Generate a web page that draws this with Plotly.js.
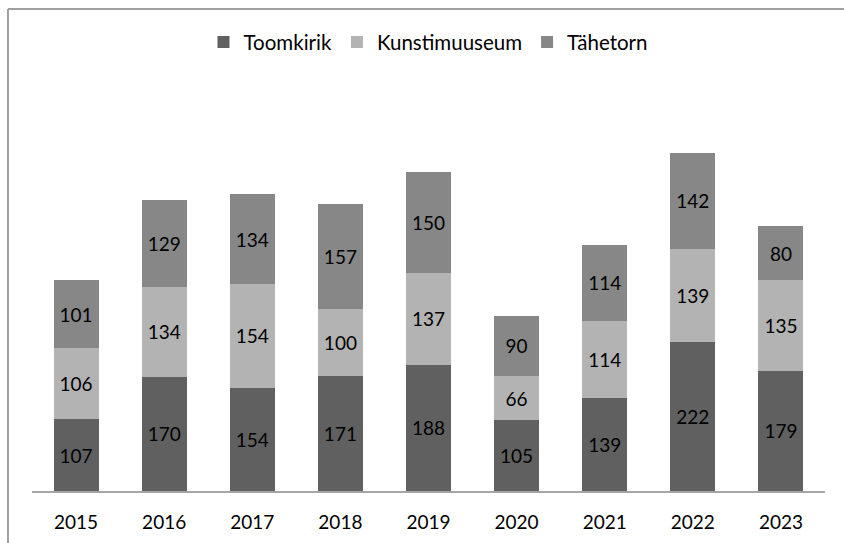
<!DOCTYPE html>
<html>
<head>
<meta charset="utf-8">
<script src="https://cdn.plot.ly/plotly-3.0.1.min.js"></script>
<style>
html,body{margin:0;padding:0;background:#fff;}
#chart{width:844px;height:543px;}
</style>
</head>
<body>
<div id="chart"></div>
<script>
const years = ['2015','2016','2017','2018','2019','2020','2021','2022','2023'];
const toomkirik = [107,170,154,171,188,105,139,222,179];
const kunstimuuseum = [106,134,154,100,137,66,114,139,135];
const tahetorn = [101,129,134,157,150,90,114,142,80];
const seriesNames = ['Toomkirik','Kunstimuuseum','Tähetorn'];
const seriesColors = ['#606060','#b3b3b3','#878787'];
const seriesValues = [toomkirik, kunstimuuseum, tahetorn];

const FONT = 'Lato, "Open Sans", sans-serif';

const traces = seriesValues.map((vals, i) => ({
  type: 'bar',
  name: seriesNames[i],
  x: years,
  y: vals,
  text: vals.map(String),
  textposition: 'inside',
  insidetextanchor: 'middle',
  textangle: 0,
  constraintext: 'none',
  textfont: {family: FONT, size: 19, color: '#000000'},
  marker: {color: seriesColors[i], line: {width: 0}},
  hoverinfo: 'skip'
}));

const layout = {
  width: 844,
  height: 543,
  barmode: 'stack',
  bargap: 0.49,
  paper_bgcolor: '#ffffff',
  plot_bgcolor: '#ffffff',
  margin: {l: 32, r: 19, t: 88, b: 52, pad: 0},
  font: {family: FONT, size: 19, color: '#000000'},
  showlegend: true,
  legend: {
    orientation: 'h',
    x: 0.5, xanchor: 'center',
    y: 1.114, yanchor: 'middle',
    font: {family: FONT, size: 20.5, color: '#000000'},
    traceorder: 'normal',
    itemclick: false,
    bgcolor: 'rgba(0,0,0,0)'
  },
  xaxis: {
    type: 'category',
    showline: true,
    linecolor: '#a6a6a6',
    linewidth: 1.5,
    ticks: '',
    showgrid: false,
    zeroline: false,
    tickfont: {family: FONT, size: 19, color: '#000000'},
    ticklabelstandoff: 14,
    fixedrange: true
  },
  yaxis: {
    range: [0, 600],
    visible: false,
    showgrid: false,
    zeroline: false,
    fixedrange: true
  },
  shapes: [
    {type: 'line', xref: 'paper', yref: 'paper', x0: -0.0303, x1: 1.1, y0: 1.196, y1: 1.196,
     line: {color: '#a0a0a0', width: 2}},
    {type: 'line', xref: 'paper', yref: 'paper', x0: -0.0303, x1: -0.0303, y0: 1.196, y1: -0.2,
     line: {color: '#a0a0a0', width: 2}}
  ]
};

Plotly.newPlot('chart', traces, layout, {displayModeBar: false, staticPlot: true});
</script>
</body>
</html>
